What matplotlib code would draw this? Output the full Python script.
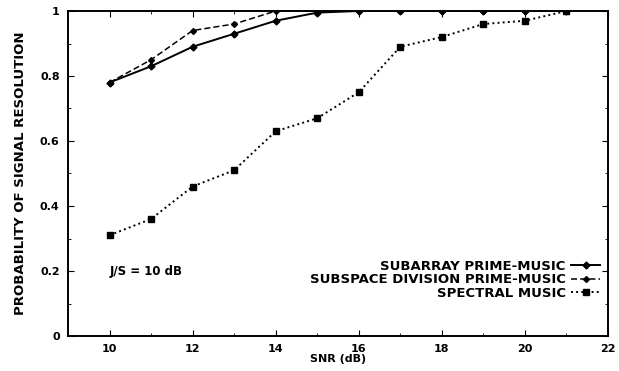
import numpy as np
import matplotlib.pyplot as plt
from matplotlib.ticker import MultipleLocator

plt.rcParams['font.family'] = ['DejaVu Sans']
plt.rcParams['font.weight'] = 'bold'

# data
snr = [10, 11, 12, 13, 14, 15, 16, 17, 18, 19, 20, 21]
subarray = [0.78, 0.83, 0.89, 0.93, 0.97, 0.995, 1.0, 1.0, 1.0, 1.0, 1.0, 1.0]
subspace = [0.78, 0.85, 0.94, 0.96, 1.0, 1.0, 1.0, 1.0, 1.0, 1.0, 1.0, 1.0]
spectral = [0.31, 0.36, 0.46, 0.51, 0.63, 0.67, 0.75, 0.89, 0.92, 0.96, 0.97, 1.0]

labels = ["SUBARRAY PRIME-MUSIC", "SUBSPACE DIVISION PRIME-MUSIC", "SPECTRAL MUSIC"]

fig = plt.figure(figsize=(6.19, 3.71), dpi=100)
ax = fig.add_axes([68 / 619, 1 - 336 / 371, 540 / 619, 325 / 371])

ax.plot(snr, subarray, 'k-', marker='D', ms=3.5, lw=1.4, label=labels[0])
ax.plot(snr, subspace, 'k--', marker='D', ms=3, lw=1.1, dashes=(4, 2), label=labels[1])
ax.plot(snr, spectral, 'k:', marker='s', ms=4.5, lw=1.4, label=labels[2])

ax.set_xlim(9, 22)
ax.set_ylim(0, 1)
ax.set_xticks([10, 12, 14, 16, 18, 20, 22])
ax.set_yticks([0, 0.2, 0.4, 0.6, 0.8, 1])
ax.set_yticklabels(['0', '0.2', '0.4', '0.6', '0.8', '1'])
ax.xaxis.set_minor_locator(MultipleLocator(1))
ax.yaxis.set_minor_locator(MultipleLocator(0.1))
ax.tick_params(which='both', direction='in', top=True, right=True, labelsize=8, pad=6)
ax.tick_params(which='major', length=4)
ax.tick_params(which='minor', length=2)
for s in ax.spines.values():
    s.set_linewidth(1.4)

ax.set_xlabel("SNR (dB)", fontsize=8, fontweight='bold', labelpad=0)
ax.set_ylabel("PROBABILITY OF SIGNAL RESOLUTION", fontsize=9.5, fontweight='bold', labelpad=9)

ax.text(10, 0.2, "J/S = 10 dB", fontsize=8.5, fontweight='bold', va='center')

leg = ax.legend(loc='lower right', bbox_to_anchor=(0.995, 0.095), frameon=False,
                markerfirst=False, fontsize=9.5, handlelength=2.2, labelspacing=0.05,
                handletextpad=0.4, borderaxespad=0)
for t in leg.get_texts():
    t.set_ha('right')
leg._legend_box.align = 'right'

fig.savefig("out.png", dpi=100)
